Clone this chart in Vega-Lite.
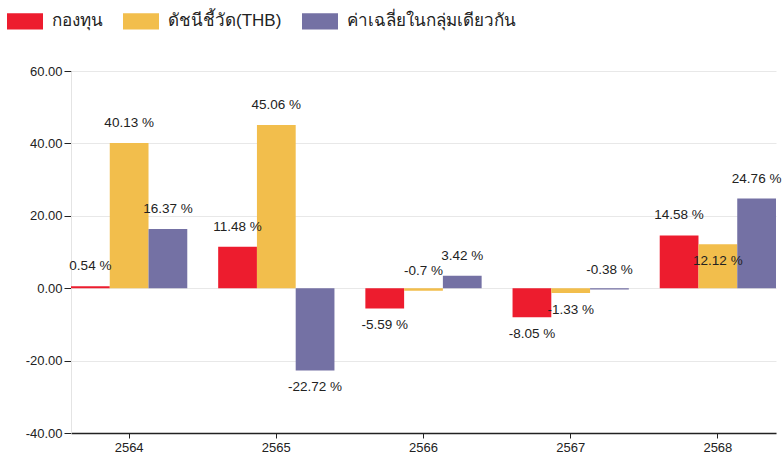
{
  "$schema": "https://vega.github.io/schema/vega-lite/v6.json",
  "width": 705,
  "height": 362,
  "autosize": {"type": "none"},
  "padding": {"left": 71, "top": 71, "right": 6, "bottom": 24},
  "background": "#ffffff",
  "config": {
    "font": "Liberation Sans",
    "view": {"stroke": null}
  },
  "data": {
    "values": [
      {"year": "2564", "series": "กองทุน", "v": 0.54},
      {"year": "2564", "series": "ดัชนีชี้วัด(THB)", "v": 40.13},
      {"year": "2564", "series": "ค่าเฉลี่ยในกลุ่มเดียวกัน", "v": 16.37},
      {"year": "2565", "series": "กองทุน", "v": 11.48},
      {"year": "2565", "series": "ดัชนีชี้วัด(THB)", "v": 45.06},
      {"year": "2565", "series": "ค่าเฉลี่ยในกลุ่มเดียวกัน", "v": -22.72},
      {"year": "2566", "series": "กองทุน", "v": -5.59},
      {"year": "2566", "series": "ดัชนีชี้วัด(THB)", "v": -0.7},
      {"year": "2566", "series": "ค่าเฉลี่ยในกลุ่มเดียวกัน", "v": 3.42},
      {"year": "2567", "series": "กองทุน", "v": -8.05},
      {"year": "2567", "series": "ดัชนีชี้วัด(THB)", "v": -1.33},
      {"year": "2567", "series": "ค่าเฉลี่ยในกลุ่มเดียวกัน", "v": -0.38},
      {"year": "2568", "series": "กองทุน", "v": 14.58},
      {"year": "2568", "series": "ดัชนีชี้วัด(THB)", "v": 12.12},
      {"year": "2568", "series": "ค่าเฉลี่ยในกลุ่มเดียวกัน", "v": 24.76}
    ]
  },
  "transform": [
    {"calculate": "toString(datum.v) + ' %'", "as": "lbl"}
  ],
  "encoding": {
    "x": {
      "field": "year",
      "type": "nominal",
      "title": null,
      "scale": {"paddingInner": 0.21, "paddingOuter": 0},
      "axis": {
        "labelAngle": 0,
        "domainColor": "#222222",
        "domainWidth": 1.5,
        "tickColor": "#222222",
        "tickSize": 5,
        "labelFontSize": 13,
        "labelColor": "#222222",
        "labelPadding": 3,
        "grid": false
      }
    },
    "xOffset": {
      "field": "series",
      "type": "nominal",
      "sort": ["กองทุน", "ดัชนีชี้วัด(THB)", "ค่าเฉลี่ยในกลุ่มเดียวกัน"],
      "scale": {"paddingInner": 0, "paddingOuter": 0}
    },
    "y": {
      "field": "v",
      "type": "quantitative",
      "title": null,
      "scale": {"domain": [-40, 60], "nice": false, "zero": false},
      "axis": {
        "values": [-40, -20, 0, 20, 40, 60],
        "labelExpr": "replace(format(datum.value, '.2f'), '\u2212', '-')",
        "domainColor": "#e4e4e4",
        "gridColor": "#e8e8e8",
        "tickColor": "#222222",
        "tickSize": 7,
        "labelFontSize": 13,
        "labelColor": "#222222",
        "labelPadding": 2
      }
    }
  },
  "layer": [
    {
      "mark": {"type": "bar"},
      "encoding": {
        "color": {
          "field": "series",
          "type": "nominal",
          "title": null,
          "sort": ["กองทุน", "ดัชนีชี้วัด(THB)", "ค่าเฉลี่ยในกลุ่มเดียวกัน"],
          "scale": {
            "domain": ["กองทุน", "ดัชนีชี้วัด(THB)", "ค่าเฉลี่ยในกลุ่มเดียวกัน"],
            "range": ["#ED1C2E", "#F2BE4C", "#7471A4"]
          },
          "legend": {
            "orient": "none",
            "legendX": -64,
            "legendY": -68,
            "direction": "horizontal",
            "symbolType": "M-1,-0.45H1V0.45H-1Z",
            "symbolSize": 1296,
            "symbolStrokeWidth": 0,
            "symbolOpacity": 1,
            "labelFontSize": 17,
            "labelColor": "#222222",
            "labelOffset": 9,
            "columnPadding": 20,
            "labelLimit": 400
          }
        },
        "y2": {"datum": 0}
      }
    },
    {
      "transform": [{"filter": "datum.v > -1 && datum.v != 12.12"}],
      "mark": {"type": "text", "baseline": "middle", "align": "center", "dy": -20, "fontSize": 13.5, "color": "#222222"},
      "encoding": {"text": {"field": "lbl"}}
    },
    {
      "transform": [{"filter": "datum.v <= -1 || datum.v == 12.12"}],
      "mark": {"type": "text", "baseline": "middle", "align": "center", "dy": 17, "fontSize": 13.5, "color": "#222222"},
      "encoding": {"text": {"field": "lbl"}}
    }
  ]
}
